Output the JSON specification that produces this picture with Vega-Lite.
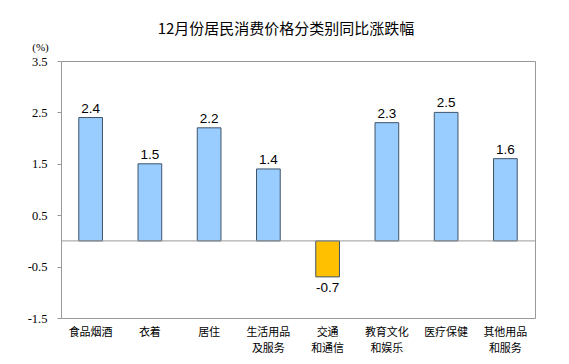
{
  "$schema": "https://vega.github.io/schema/vega-lite/v6.json",
  "width": 474,
  "height": 257,
  "autosize": {"type": "none"},
  "padding": {"left": 61, "top": 61, "right": 34, "bottom": 46},
  "background": "white",
  "title": {
    "text": "12月份居民消费价格分类别同比涨跌幅",
    "font": "Noto Sans CJK SC",
    "fontSize": 15,
    "fontWeight": "normal",
    "color": "#000000",
    "anchor": "middle",
    "frame": "group",
    "baseline": "bottom",
    "offset": -11,
    "dx": -12
  },
  "config": {
    "view": {"stroke": "#999999", "strokeWidth": 1},
    "axis": {"grid": false}
  },
  "data": {
    "values": [
      {"category": "食品烟酒", "value": 2.4},
      {"category": "衣着", "value": 1.5},
      {"category": "居住", "value": 2.2},
      {"category": "生活用品\n及服务", "value": 1.4},
      {"category": "交通\n和通信", "value": -0.7},
      {"category": "教育文化\n和娱乐", "value": 2.3},
      {"category": "医疗保健", "value": 2.5},
      {"category": "其他用品\n和服务", "value": 1.6}
    ]
  },
  "encoding": {
    "x": {
      "field": "category",
      "type": "nominal",
      "sort": null,
      "scale": {"paddingInner": 0.6, "paddingOuter": 0.3},
      "axis": {
        "title": null,
        "orient": "bottom",
        "domain": false,
        "ticks": false,
        "labelAngle": 0,
        "labelFont": "Noto Sans CJK SC",
        "labelFontSize": 11,
        "labelColor": "#000000",
        "labelPadding": 8,
        "labelLineHeight": 16,
        "labelBaseline": "top",
        "labelExpr": "split(datum.label, '\\n')"
      }
    }
  },
  "layer": [
    {
      "mark": {"type": "bar", "stroke": "#3f5468", "strokeWidth": 1},
      "encoding": {
        "y": {
          "field": "value",
          "type": "quantitative",
          "scale": {"domain": [-1.5, 3.5], "nice": false, "zero": false},
          "axis": {
            "title": "(%)",
            "titleAngle": 0,
            "titleX": -21,
            "titleY": -14,
            "titleAlign": "center",
            "titleBaseline": "middle",
            "titleFont": "Liberation Serif",
            "titleFontSize": 11,
            "titleFontWeight": "normal",
            "titleColor": "#000000",
            "values": [-1.5, -0.5, 0.5, 1.5, 2.5, 3.5],
            "labelExpr": "toString(datum.value)",
            "domain": false,
            "tickSize": 4,
            "tickColor": "#999999",
            "labelFont": "Liberation Serif",
            "labelFontSize": 12.5,
            "labelColor": "#000000",
            "labelPadding": 10
          }
        },
        "fill": {
          "condition": {"test": "datum.value < 0", "value": "#FFC000"},
          "value": "#99CCFF"
        }
      }
    },
    {
      "mark": {"type": "rule", "color": "#999999", "strokeWidth": 1},
      "data": {"values": [{"zero": 0}]},
      "encoding": {"y": {"field": "zero", "type": "quantitative"}, "x": null}
    },
    {
      "transform": [{"filter": "datum.value >= 0"}],
      "mark": {"type": "text", "baseline": "bottom", "dy": -2, "font": "Liberation Sans", "fontSize": 13.5, "color": "#000000"},
      "encoding": {
        "y": {"field": "value", "type": "quantitative"},
        "text": {"field": "value", "type": "nominal"}
      }
    },
    {
      "transform": [{"filter": "datum.value < 0"}],
      "mark": {"type": "text", "baseline": "top", "dy": 4, "font": "Liberation Sans", "fontSize": 13.5, "color": "#000000"},
      "encoding": {
        "y": {"field": "value", "type": "quantitative"},
        "text": {"field": "value", "type": "nominal"}
      }
    }
  ]
}
